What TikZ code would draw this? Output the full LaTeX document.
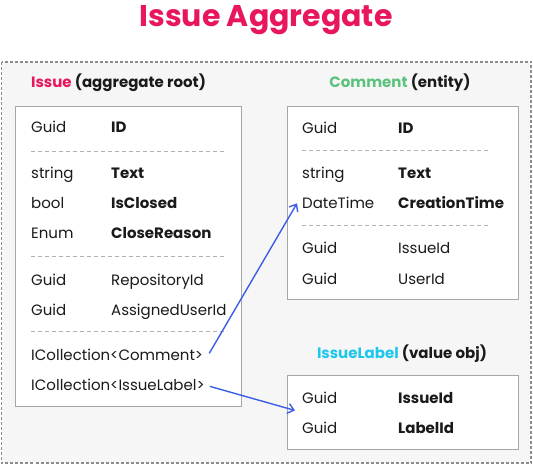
\documentclass[tikz,border=0pt]{standalone}
\usepackage{fontspec}
\setmainfont{Poppins}
\usetikzlibrary{arrows.meta}
\definecolor{crimson}{HTML}{E8175D}
\definecolor{cgreen}{HTML}{5CC27C}
\definecolor{ccyan}{HTML}{1DC6EC}
\definecolor{cblue}{HTML}{3C5DE6}
\definecolor{bgray}{HTML}{F6F6F6}
\definecolor{txtc}{HTML}{1A1A1A}
\tikzset{
  outerbox/.style={draw=black!45, line width=1.1pt, dash pattern=on 3pt off 2pt, fill=bgray},
  tbox/.style={draw=black!35, line width=0.9pt, fill=white, anchor=north west, inner sep=0pt},
  sep/.style={draw=black!30, line width=0.8pt, dash pattern=on 4pt off 3pt},
  txt/.style={anchor=base west, inner sep=0pt, font=\fontsize{15}{17}\selectfont, text=txtc},
  fld/.style={txt, font=\fontsize{15}{17}\selectfont\bfseries},
  head/.style={anchor=base, inner sep=0pt, font=\fontsize{15}{18}\selectfont\bfseries, text=txtc},
  arr/.style={draw=cblue, line width=1.4pt, -{Straight Barb[length=6pt,width=10pt]}},
}
\begin{document}
\begin{tikzpicture}[x=1pt,y=-1pt]
\useasboundingbox (0,0) rectangle (533,465);
\node[anchor=base, inner sep=0pt, font=\fontsize{30}{36}\selectfont\bfseries, text=crimson] (title) at (266,27) {Issue Aggregate};
\draw[outerbox] (1.5,62) rectangle (531,463);

% Issue
\node[head, anchor=base west] (issuehead) at (31,88) {\textcolor{crimson}{Issue} (aggregate root)};
\node[tbox, minimum width=226pt, minimum height=300pt] (issuebox) at (15,106) {};
\node[txt] (i1a) at (31,133) {Guid};
\node[fld] (i1b) at (111,133) {ID};
\draw[sep] (31,151) -- (227,151);
\node[txt] (i2a) at (31,179) {string};
\node[fld] (i2b) at (111,179) {Text};
\node[txt] (i3a) at (31,209) {bool};
\node[fld] (i3b) at (111,209) {IsClosed};
\node[txt] (i4a) at (31,239) {Enum};
\node[fld] (i4b) at (111,239) {CloseReason};
\draw[sep] (31,256) -- (227,256);
\node[txt] (i5a) at (31,285) {Guid};
\node[txt] (i5b) at (111,285) {RepositoryId};
\node[txt] (i6a) at (31,315) {Guid};
\node[txt] (i6b) at (111,315) {AssignedUserId};
\draw[sep] (31,331) -- (227,331);
\node[txt] (icc) at (31,360) {ICollection<Comment>};
\node[txt] (icl) at (31,390) {ICollection<IssueLabel>};

% Comment
\node[head] (commenthead) at (400,88) {\textcolor{cgreen}{Comment} (entity)};
\node[tbox, minimum width=231pt, minimum height=193pt] (commentbox) at (287,106) {};
\node[txt] (c1a) at (302,134) {Guid};
\node[fld] (c1b) at (398,134) {ID};
\draw[sep] (302,150) -- (490,150);
\node[txt] (c2a) at (302,179) {string};
\node[fld] (c2b) at (398,179) {Text};
\node[txt] (dt) at (302,209) {DateTime};
\node[fld] (c3b) at (398,209) {CreationTime};
\draw[sep] (302,225) -- (490,225);
\node[txt] (c4a) at (302,254) {Guid};
\node[txt] (c4b) at (398,254) {IssueId};
\node[txt] (c5a) at (302,284) {Guid};
\node[txt] (c5b) at (398,284) {UserId};

% IssueLabel
\node[head] (labelhead) at (402,358) {\textcolor{ccyan}{IssueLabel} (value obj)};
\node[tbox, minimum width=231pt, minimum height=74pt] (labelbox) at (287,375) {};
\node[txt] (l1a) at (302,403) {Guid};
\node[fld] (l1b) at (398,403) {IssueId};
\node[txt] (l2a) at (302,433) {Guid};
\node[fld] (l2b) at (398,433) {LabelId};

% arrows
\draw[arr] ([xshift=6pt,yshift=1pt]icc.east) -- ([xshift=-5pt]dt.west);
\draw[arr] ([xshift=5pt,yshift=-2pt]icl.east) -- ([xshift=8pt,yshift=2pt]labelbox.west);
\end{tikzpicture}
\end{document}
